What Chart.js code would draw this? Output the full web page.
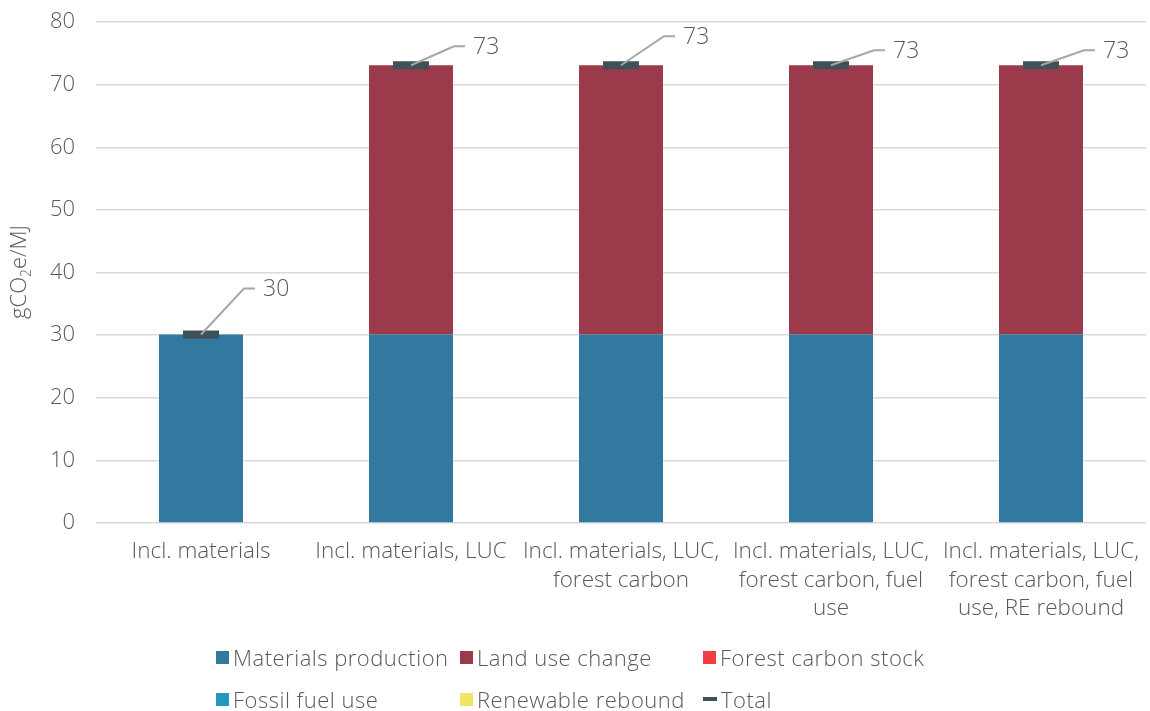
<!DOCTYPE html>
<html>
<head>
<meta charset="utf-8">
<script src="https://cdn.jsdelivr.net/npm/chart.js@4.4.1/dist/chart.umd.min.js"></script>
<style>
    body { margin: 0; background: #fff; }
    #wrap { position: relative; width: 1150px; height: 711px; }
    #legend { position: absolute; left: 216px; top: 644px; display: grid;
        grid-template-columns: 244px 243px 260px; row-gap: 16px;
        font-family: "Open Sans", sans-serif; font-weight: 300; font-size: 22px;
        letter-spacing: 0.5px; color: #595959; }
    #legend div { display: flex; align-items: center; height: 26px; white-space: nowrap; }
    #legend span.box { width: 13px; height: 13px; margin-right: 4px; flex: none; }
    #legend span.dash { width: 14px; height: 4px; margin-right: 4px; flex: none; }
</style>
</head>
<body>
<div id="wrap">
    <canvas id="chart" width="1150" height="711"></canvas>
    <div id="legend"></div>
</div>
<script>
const categories = [
    ['Incl. materials'],
    ['Incl. materials, LUC'],
    ['Incl. materials, LUC,', 'forest carbon'],
    ['Incl. materials, LUC,', 'forest carbon, fuel', 'use'],
    ['Incl. materials, LUC,', 'forest carbon, fuel', 'use, RE rebound']
];
const materialsProduction = [30.1, 30.1, 30.1, 30.1, 30.1];
const landUseChange = [0, 43.0, 43.0, 43.0, 43.0];
const forestCarbonStock = [0, 0, 0, 0, 0];
const fossilFuelUse = [0, 0, 0, 0, 0];
const renewableRebound = [0, 0, 0, 0, 0];
const totals = [30.1, 73.1, 73.1, 73.1, 73.1];
const totalLabels = ['30', '73', '73', '73', '73'];
const yTicks = [0, 10, 20, 30, 40, 50, 60, 70, 80];

const FONT = '"Open Sans", sans-serif';
const TEXT = '#595959';

const colors = {
    materials: '#31799f',
    luc: '#9b3a4a',
    forest: '#ef3e44',
    fossil: '#2397be',
    renew: '#f3e564',
    total: '#3e5058'
};

// etiquetas con línea guía para el total
const totalLabelPlugin = {
    id: 'totalLabels',
    afterDatasetsDraw(chart, args, opts) {
        const ctx = chart.ctx;
        const meta = chart.getDatasetMeta(5);
        ctx.save();
        meta.data.forEach((pt, i) => {
            const dy = opts.offsets[i];
            const ex = pt.x + 43, ey = pt.y + dy;
            ctx.strokeStyle = '#a6a6a6';
            ctx.lineWidth = 2;
            ctx.beginPath();
            ctx.moveTo(pt.x, pt.y);
            ctx.lineTo(ex, ey);
            ctx.lineTo(ex + 11, ey);
            ctx.stroke();
            ctx.fillStyle = TEXT;
            ctx.font = '300 23px ' + FONT;
            ctx.textBaseline = 'middle';
            ctx.fillText(totalLabels[i], ex + 19, ey + 1);
        });
        ctx.restore();
    }
};

// título del eje Y con subíndice
const yTitlePlugin = {
    id: 'yTitle',
    afterDraw(chart) {
        const ctx = chart.ctx;
        ctx.save();
        ctx.translate(26, 272);
        ctx.rotate(-Math.PI / 2);
        ctx.fillStyle = TEXT;
        ctx.textBaseline = 'alphabetic';
        ctx.font = '300 22px ' + FONT;
        const a = 'gCO', b = '2', c = 'e/MJ';
        const wa = ctx.measureText(a).width;
        const wc = ctx.measureText(c).width;
        ctx.font = '300 14px ' + FONT;
        const wb = ctx.measureText(b).width;
        let x = -(wa + wb + wc) / 2;
        ctx.font = '300 22px ' + FONT;
        ctx.fillText(a, x, 0);
        x += wa;
        ctx.font = '300 14px ' + FONT;
        ctx.fillText(b, x, 5);
        x += wb;
        ctx.font = '300 22px ' + FONT;
        ctx.fillText(c, x, 0);
        ctx.restore();
    }
};

const barDs = (label, data, color) => ({
    type: 'bar', label, data, backgroundColor: color, borderWidth: 0,
    categoryPercentage: 1, barPercentage: 0.4, stack: 's'
});

const chart = new Chart(document.getElementById('chart'), {
    data: {
        labels: categories,
        datasets: [
            barDs('Materials production', materialsProduction, colors.materials),
            barDs('Land use change', landUseChange, colors.luc),
            barDs('Forest carbon stock', forestCarbonStock, colors.forest),
            barDs('Fossil fuel use', fossilFuelUse, colors.fossil),
            barDs('Renewable rebound', renewableRebound, colors.renew),
            {
                type: 'line', label: 'Total', data: totals, showLine: false,
                pointStyle: 'line', pointRadius: 18, pointHoverRadius: 18,
                borderColor: colors.total, pointBorderWidth: 8, order: -1
            }
        ]
    },
    options: {
        responsive: false,
        animation: false,
        layout: { autoPadding: false, padding: { top: 22, right: 4, left: 0, bottom: 0 } },
        plugins: {
            legend: { display: false },
            tooltip: { enabled: false },
            totalLabels: { offsets: [-46, -19, -29, -15, -15] }
        },
        scales: {
            x: {
                grid: { display: false },
                border: { display: false },
                ticks: {
                    color: TEXT, padding: 7, maxRotation: 0, autoSkip: false,
                    font: { family: FONT, weight: 300, size: 22.5, lineHeight: 1.25 }
                },
                afterFit: s => { s.height = 188; s.paddingLeft = 0; s.paddingRight = 0; }
            },
            y: {
                min: 0, max: 80,
                afterBuildTicks: s => { s.ticks = yTicks.map(v => ({ value: v })); },
                grid: { color: '#d9d9d9', lineWidth: 1.5, drawTicks: false },
                border: { display: false },
                ticks: {
                    color: TEXT, padding: 21,
                    font: { family: FONT, weight: 300, size: 22 }
                },
                afterFit: s => { s.width = 96; s.paddingTop = 0; s.paddingBottom = 0; }
            }
        }
    },
    plugins: [totalLabelPlugin, yTitlePlugin]
});

// leyenda en HTML (3 columnas)
const legendEl = document.getElementById('legend');
chart.data.datasets.forEach(ds => {
    const isTotal = ds.type === 'line';
    const color = isTotal ? ds.borderColor : ds.backgroundColor;
    legendEl.innerHTML += `
        <div><span class="${isTotal ? 'dash' : 'box'}" style="background:${color}"></span>${ds.label}</div>`;
});
</script>
</body>
</html>
